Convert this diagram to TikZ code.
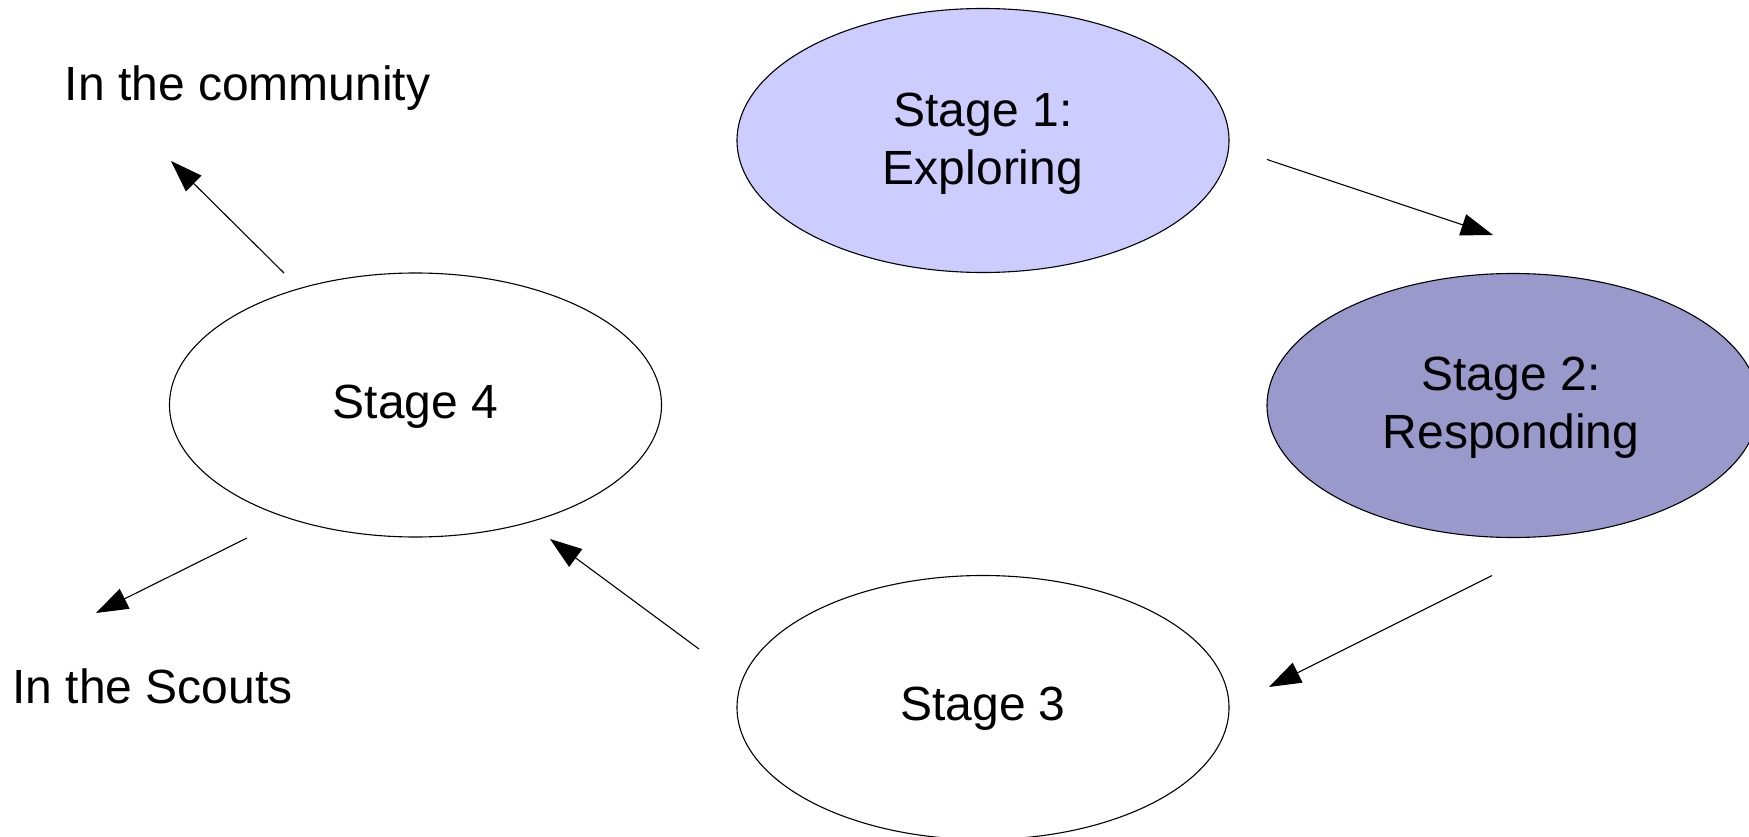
\documentclass[tikz,border=0pt]{standalone}
\usepackage{fontspec}
\setmainfont{Liberation Sans}
\usetikzlibrary{shapes.geometric,arrows.meta}
\begin{document}
\begin{tikzpicture}[x=1pt,y=-1pt,
  stage/.style={draw=black,line width=1.1pt,ellipse,minimum width=492pt,minimum height=264pt,inner sep=0pt},
  lbl/.style={font=\fontsize{48}{58}\selectfont,align=center,inner sep=0pt},
  conn/.style={line width=1.1pt,-{Triangle[length=32pt,width=22pt]}}]
\useasboundingbox (0,0) rectangle (1749,837);
\node[stage,fill={rgb,255:red,204;green,204;blue,255}] (s1) at (983,140.5) {};
\node[stage,fill={rgb,255:red,153;green,153;blue,204}] (s2) at (1513,405.5) {};
\node[stage] (s3) at (983,707.5) {};
\node[stage] (s4) at (415.5,405) {};
\node[lbl] (t1) at (983,144) {Stage 1:\\Exploring};
\node[lbl] (t2) at (1511,408) {Stage 2:\\Responding};
\node[lbl] (t3) at (983,709) {Stage 3};
\node[lbl] (t4) at (415.5,407) {Stage 4};
\node[lbl,anchor=base] (comm) at (247.5,101) {In the community};
\node[lbl,anchor=base] (scouts) at (152.5,703) {In the Scouts};
\coordinate (a1s) at (1267,159.5);
\coordinate (a1e) at (1493,235);
\coordinate (a2s) at (1492,575.5);
\coordinate (a2e) at (1269,687);
\coordinate (a3s) at (699,649);
\coordinate (a3e) at (550,539);
\coordinate (a4s) at (284,273);
\coordinate (a4e) at (171,161);
\coordinate (a5s) at (247,538);
\coordinate (a5e) at (96,613);
\draw[conn] (a1s) -- (a1e);
\draw[conn] (a2s) -- (a2e);
\draw[conn] (a3s) -- (a3e);
\draw[conn] (a4s) -- (a4e);
\draw[conn] (a5s) -- (a5e);
\end{tikzpicture}
\end{document}
